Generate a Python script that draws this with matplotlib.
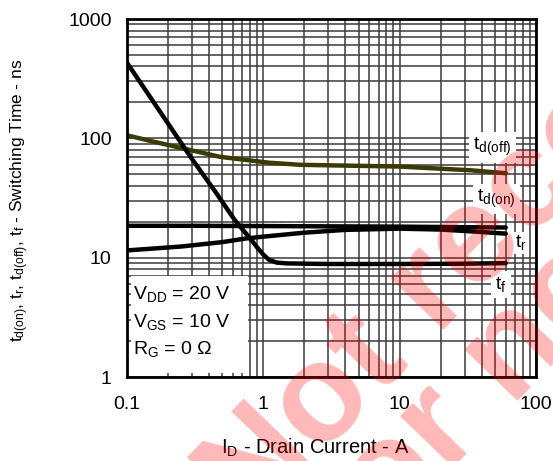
import matplotlib
matplotlib.use("Agg")
import matplotlib.pyplot as plt
from matplotlib.patches import Rectangle

plt.rcParams['font.family'] = ['Liberation Sans', 'DejaVu Sans']
plt.rcParams['mathtext.fontset'] = 'custom'
plt.rcParams['mathtext.rm'] = 'Liberation Sans'
plt.rcParams['mathtext.it'] = 'Liberation Sans:italic'
plt.rcParams['mathtext.bf'] = 'Liberation Sans:bold'

# ---- data ----
id_doff = [0.1, 0.155, 0.245, 0.48, 1.1, 1.86, 10, 33, 60]
t_doff = [106, 94, 83.5, 70, 62.5, 60, 58, 54, 51]

id_don = [0.1, 0.3, 1, 3, 10, 30, 60]
t_don = [18.5, 18.5, 18.4, 18.3, 18.2, 18.0, 17.9]

id_r = [0.1, 0.25, 0.5, 0.75, 1, 2, 4, 10, 20, 40, 60]
t_r = [11.5, 12.4, 13.5, 14.5, 15.0, 16.2, 17.1, 17.5, 17.2, 16.4, 15.9]

id_f = [0.1, 0.2, 0.3, 0.45, 0.62, 0.8, 0.9, 1.0, 1.1, 1.25, 1.5, 3, 10, 30, 60]
t_f = [430, 133, 67, 35, 20.5, 14.5, 12.2, 10.6, 9.6, 9.1, 8.95, 8.85, 8.85, 8.9, 9.0]

x_ticks = [0.1, 1, 10, 100]
x_ticklabels = ["0.1", "1", "10", "100"]
y_ticks = [1, 10, 100, 1000]
y_ticklabels = ["1", "10", "100", "1000"]

cond_lines = [r"V$\mathrm{_{DD}}$ = 20 V", r"V$\mathrm{_{GS}}$ = 10 V", r"R$\mathrm{_{G}}$ = 0 Ω"]

W, H = 553, 461
fig = plt.figure(figsize=(W / 100, H / 100), dpi=100)
ax = fig.add_axes([127 / W, (H - 377) / H, (536 - 127) / W, (377 - 19) / H])
ax.set_xscale('log')
ax.set_yscale('log')
ax.set_xlim(0.1, 100)
ax.set_ylim(1, 1000)
ax.set_axisbelow(True)
ax.grid(True, which='both', color='#3a3a3a', lw=1.1)
ax.tick_params(which='both', length=0, labelsize=14)
ax.tick_params(axis='x', pad=14)
ax.tick_params(axis='y', pad=11)
ax.set_xticks(x_ticks)
ax.set_xticklabels(x_ticklabels)
ax.set_yticks(y_ticks)
ax.set_yticklabels(y_ticklabels)
for s in ax.spines.values():
    s.set_linewidth(2.0)
    s.set_zorder(5)

lkw = dict(lw=3.2, solid_capstyle='round', zorder=3)
ax.plot(id_doff, t_doff, color='#3b3b00', **lkw)
ax.plot(id_don, t_don, color='black', **lkw)
ax.plot(id_r, t_r, color='black', **lkw)
ax.plot(id_f, t_f, color='black', **lkw)

# condition box
ax.add_patch(Rectangle((0.010, 0.011), (248 - 127) / 409 - 0.010, (377 - 276) / 358 - 0.011,
                       transform=ax.transAxes, facecolor='white', edgecolor='none', zorder=1))
for i, s in enumerate(cond_lines):
    ax.text((133 - 127) / 409, (377 - 299 - 27.5 * i) / 358, s, transform=ax.transAxes,
            fontsize=14, ha='left', va='baseline', zorder=4)

bb = dict(facecolor='white', edgecolor='none', pad=3)
ax.text(34.5, 84, r"$\mathrm{t_{d(off)}}$", fontsize=14, ha='left', va='center', bbox=bb, zorder=4)
ax.text(37, 31, r"$\mathrm{t_{d(on)}}$", fontsize=14, ha='left', va='center', bbox=bb, zorder=4)
ax.text(70, 13.3, r"$\mathrm{t_r}$", fontsize=14, ha='left', va='center',
        bbox=dict(facecolor='white', edgecolor='none', pad=1), zorder=4)
ax.text(50, 6.0, r"$\mathrm{t_f}$", fontsize=14, ha='left', va='center', bbox=bb, zorder=4)

fig.text(20 / W, (H - 200) / H,
         r"$\mathrm{t_{d(on)}}$, $\mathrm{t_r}$, $\mathrm{t_{d(off)}}$, $\mathrm{t_f}$ - Switching Time - ns",
         rotation=90, ha='center', va='center', fontsize=12.5)
fig.text(315 / W, (H - 448) / H, r"I$\mathrm{_D}$ - Drain Current - A",
         ha='center', va='center', fontsize=14.5)

# watermark
wm = dict(rotation=46, rotation_mode='anchor', ha='left', va='baseline', fontsize=100,
          fontweight='bold', color='#ff0000', alpha=0.28, zorder=10)
fig.text(250.5 / W, (H - 530.5) / H, "Not recommended", **wm)
fig.text(356 / W, (H - 568.6) / H, "for new design", **wm)

fig.savefig("out.png", dpi=100)
